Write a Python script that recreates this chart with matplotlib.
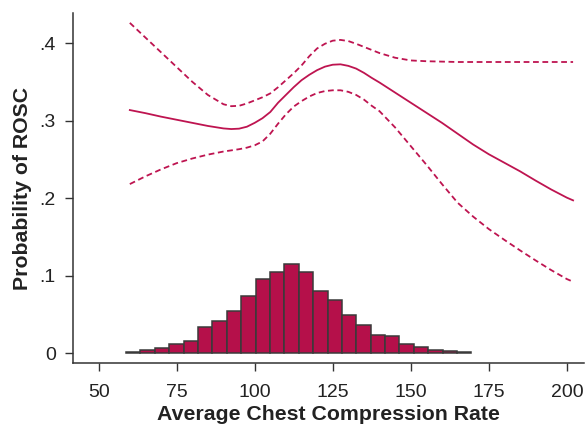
import numpy as np
import matplotlib
matplotlib.use("Agg")
import matplotlib.pyplot as plt

# ---- data ----
x_vals = [60, 65, 70, 75, 80, 85, 90, 92.5, 95, 97.5, 100, 102.5, 105, 107.5, 110,
          112.5, 115, 117.5, 120, 122.5, 125, 127.5, 130, 132.5, 135, 137.5, 140,
          145, 150, 155, 160, 165, 170, 175, 180, 185, 190, 195, 200, 202]
prob = [0.3135, 0.3095, 0.305, 0.301, 0.297, 0.293, 0.2898, 0.289, 0.2895, 0.292,
        0.297, 0.303, 0.311, 0.323, 0.333, 0.343, 0.352, 0.359, 0.365, 0.3695,
        0.372, 0.3725, 0.3705, 0.367, 0.3615, 0.355, 0.349, 0.336, 0.323, 0.310,
        0.297, 0.283, 0.269, 0.2565, 0.2455, 0.2345, 0.2225, 0.211, 0.2005, 0.197]
upper = [0.426, 0.407, 0.388, 0.369, 0.350, 0.333, 0.321, 0.3185, 0.319, 0.322,
         0.326, 0.330, 0.335, 0.343, 0.352, 0.361, 0.371, 0.383, 0.393, 0.399,
         0.403, 0.404, 0.4025, 0.399, 0.395, 0.391, 0.387, 0.381, 0.3775, 0.3765,
         0.376, 0.3755, 0.3755, 0.3755, 0.3755, 0.3755, 0.3755, 0.3755, 0.3755, 0.3755]
lower = [0.218, 0.228, 0.237, 0.245, 0.251, 0.256, 0.260, 0.2615, 0.263, 0.265,
         0.268, 0.273, 0.283, 0.296, 0.308, 0.318, 0.325, 0.331, 0.3355, 0.338,
         0.339, 0.339, 0.337, 0.333, 0.327, 0.319, 0.312, 0.291, 0.267, 0.243,
         0.218, 0.194, 0.176, 0.160, 0.146, 0.1325, 0.1195, 0.107, 0.0955, 0.092]

hist_start = 58.8
hist_width = 4.61
hist_heights = [0.0017, 0.0034, 0.006, 0.0116, 0.015, 0.034, 0.0417, 0.0546, 0.0731,
                0.095, 0.104, 0.1148, 0.104, 0.080, 0.069, 0.0495, 0.0357, 0.0237,
                0.0219, 0.012, 0.0073, 0.0043, 0.003, 0.0017]

x_ticks = [50, 75, 100, 125, 150, 175, 200]
y_ticks = [0, 0.1, 0.2, 0.3, 0.4]
y_tick_labels = ["0", ".1", ".2", ".3", ".4"]
x_label = "Average Chest Compression Rate"
y_label = "Probability of ROSC"

# ---- style ----
plt.rcParams['font.family'] = ['Liberation Sans', 'DejaVu Sans']
line_color = "#BE1450"
bar_color = "#B5104A"
edge_color = "#3a3a3a"
axis_color = "#333333"

fig = plt.figure(figsize=(5.86, 4.28), dpi=100)
ax = fig.add_axes([0.1246, 0.151, 0.872, 0.8186])

lefts = hist_start + hist_width * np.arange(len(hist_heights))
ax.bar(lefts, hist_heights, width=hist_width, align="edge", color=bar_color,
       edgecolor=edge_color, linewidth=1.1, zorder=2)

ax.plot(x_vals, prob, color=line_color, lw=1.3, zorder=3)
ax.plot(x_vals, upper, color=line_color, lw=1.3, ls=(0, (3.2, 2.0)), zorder=3)
ax.plot(x_vals, lower, color=line_color, lw=1.3, ls=(0, (3.2, 2.0)), zorder=3)

ax.set_xlim(41.8, 205.5)
ax.set_ylim(-0.0133, 0.4387)
ax.set_xticks(x_ticks)
ax.set_yticks(y_ticks)
ax.set_yticklabels(y_tick_labels)

for s in ["top", "right"]:
    ax.spines[s].set_visible(False)
for s in ["left", "bottom"]:
    ax.spines[s].set_color(axis_color)
    ax.spines[s].set_linewidth(1.1)

ax.tick_params(axis="both", colors=axis_color, labelcolor="#222222",
               labelsize=14, length=5.5, width=1.0)
ax.tick_params(axis="x", pad=9)
ax.tick_params(axis="y", pad=7)

ax.set_xlabel(x_label, fontsize=15.3, fontweight="bold", color="#222222", labelpad=3)
ax.set_ylabel(y_label, fontsize=15.3, fontweight="bold", color="#222222", labelpad=5)

fig.savefig("out.png", dpi=100)
